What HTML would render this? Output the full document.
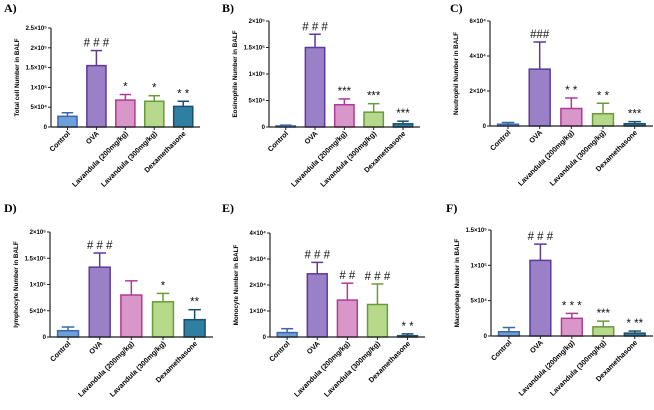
<!DOCTYPE html>
<html><head><meta charset="utf-8">
<style>
html,body{margin:0;padding:0;background:#fff;}
svg{display:block;font-family:"Liberation Sans",Arial,sans-serif;}
</style></head>
<body>
<svg id="fig" width="654" height="410" viewBox="0 0 654 410" xmlns="http://www.w3.org/2000/svg"></svg>
<script>
// ---- data ----
const categories = ["Control","OVA","Lavandula (200mg/kg)","Lavandula (300mg/kg)","Dexamethasone"];
const panelLetters = ["A)","B)","C)","D)","E)","F)"];
const yTitles = ["Total cell Number in BALF","Eosinophile Number in BALF","Neutrophil Number in BALF","lymphocyte Number in BALF","Monocyte Number in BALF","Macrophage Number in BALF"];
const meansA = [27000,155000,68000,65000,52000];
const errsA  = [36000,193000,82000,79000,65000];
const meansB = [2000,150000,42000,28000,6000];
const errsB  = [3500,175000,53000,44000,11000];
const meansC = [1000,32500,10000,7000,1300];
const errsC  = [2000,48000,16000,13000,2500];
const meansD = [12000,133000,80000,67000,33000];
const errsD  = [19000,160000,107000,83000,52000];
const meansE = [1700,24300,14200,12500,500];
const errsE  = [3200,28700,20700,20400,1200];
const meansF = [6000,107000,25000,13000,4000];
const errsF  = [12000,130000,32000,21000,7000];
const marksA = ["","# # #","*","*","* *"];
const marksB = ["","# # #","***","***","***"];
const marksC = ["","###","* *","* *","***"];
const marksD = ["","# # #","","*","**"];
const marksE = ["","# # #","# #","# # #","* *"];
const marksF = ["","# # #","* * *","***","* **"];
const ticksA = [0,50000,100000,150000,200000,250000];
const tickLabelsA = ["0","5×10⁴","1×10⁵","1.5×10⁵","2×10⁵","2.5×10⁵"];
const ticksB = [0,50000,100000,150000,200000];
const tickLabelsB = ["0","5×10⁴","1×10⁵","1.5×10⁵","2×10⁵"];
const ticksC = [0,20000,40000,60000];
const tickLabelsC = ["0","2×10⁴","4×10⁴","6×10⁴"];
const ticksD = [0,50000,100000,150000,200000];
const tickLabelsD = ["0","5×10⁴","1×10⁵","1.5×10⁵","2×10⁵"];
const ticksE = [0,10000,20000,30000,40000];
const tickLabelsE = ["0","1×10⁴","2×10⁴","3×10⁴","4×10⁴"];
const ticksF = [0,50000,100000,150000];
const tickLabelsF = ["0","5×10⁴","1×10⁵","1.5×10⁵"];

// ---- layout ----
const fills = ["#6e9fd9","#9a80c6","#d997c9","#b7d98b","#2e7fa1"];
const strokes = ["#3b67aa","#5a3a9b","#b03a98","#6a9b3a","#1b4f6b"];
const NS = "http://www.w3.org/2000/svg";
const svg = document.getElementById("fig");
function mk(tag, attrs, parent){const e=document.createElementNS(NS,tag);for(const k in attrs)e.setAttribute(k,attrs[k]);(parent||svg).appendChild(e);return e;}

const panels = [
 {x0:51,x1:200,top:28,base:127,lx:4,ly:12,m:meansA,e:errsA,mk:marksA,t:ticksA,tl:tickLabelsA},
 {x0:269,x1:420,top:21,base:127,lx:222,ly:12,m:meansB,e:errsB,mk:marksB,t:ticksB,tl:tickLabelsB},
 {x0:490,x1:653,top:21,base:126,lx:450,ly:12,m:meansC,e:errsC,mk:marksC,t:ticksC,tl:tickLabelsC},
 {x0:50,x1:213,top:232,base:337,lx:4,ly:212,m:meansD,e:errsD,mk:marksD,t:ticksD,tl:tickLabelsD},
 {x0:270,x1:425,top:233,base:337,lx:222,ly:212,m:meansE,e:errsE,mk:marksE,t:ticksE,tl:tickLabelsE},
 {x0:491,x1:653,top:230,base:336,lx:446,ly:212,m:meansF,e:errsF,mk:marksF,t:ticksF,tl:tickLabelsF}
];

panels.forEach((p,pi)=>{
  const g = mk("g",{});
  
  
  const ymax = p.t[p.t.length-1];
  const y = v => p.base - (v/ymax)*(p.base-p.top);
  const step = (p.x1-p.x0)/5.15;
  const xc = i => p.x0 + (i+0.57)*step;
  const bw = step*0.66;
  const L = mk("text",{x:p.lx,y:p.ly,"font-family":"Liberation Serif,serif","font-weight":"bold","font-size":"12"},g);
  L.textContent = panelLetters[pi];
  
  
  const yt = mk("text",{x:0,y:0,"font-size":"6.3","font-weight":"bold","text-anchor":"middle",transform:`translate(${p.x0-32},${(p.top+p.base)/2}) rotate(-90)`},g);
  yt.textContent = yTitles[pi];
  
  
  p.m.forEach((v,i)=>{
    const cx = xc(i);
    const eb = mk("line",{x1:cx,x2:cx,y1:y(v),y2:y(p.e[i]),stroke:strokes[i],"stroke-width":"1.5"},g);
    
    
    const cap = mk("line",{x1:cx-bw*0.3,x2:cx+bw*0.3,y1:y(p.e[i]),y2:y(p.e[i]),stroke:strokes[i],"stroke-width":"1.5"},g);
    
    
    const r = mk("rect",{x:cx-bw/2,y:y(v),width:bw,height:Math.max(p.base-y(v),0.5),fill:fills[i],stroke:strokes[i],"stroke-width":"1.5"},g);
    
    
    if(p.mk[i]){
      const s = mk("text",{x:cx,y:y(p.e[i])-4,"font-size":"11.5","text-anchor":"middle",fill:"#111"},g);
      s.textContent = p.mk[i];
      
      
    }
    mk("line",{x1:cx,x2:cx,y1:p.base,y2:p.base+3,stroke:"#222","stroke-width":"1"},g);
    const tx = mk("text",{x:0,y:0,"font-size":"7.2","font-weight":"bold","text-anchor":"end",transform:`translate(${cx+3},${p.base+7}) rotate(-45)`},g);
    tx.textContent = categories[i];
    
    
  });
  const ax = mk("line",{x1:p.x0,x2:p.x0,y1:p.top,y2:p.base,stroke:"#222","stroke-width":"1.2"},g);
  
  
  const bx = mk("line",{x1:p.x0,x2:p.x1,y1:p.base,y2:p.base,stroke:"#222","stroke-width":"1.2"},g);
  
  
  p.t.forEach((tv,ti)=>{
    mk("line",{x1:p.x0-3,x2:p.x0,y1:y(tv),y2:y(tv),stroke:"#222","stroke-width":"1"},g);
    const tl = mk("text",{x:p.x0-4,y:y(tv)+2,"font-size":"6","font-weight":"bold","text-anchor":"end"},g);
    tl.textContent = p.tl[ti];
    
    
  });
});
</script>
</body></html>
